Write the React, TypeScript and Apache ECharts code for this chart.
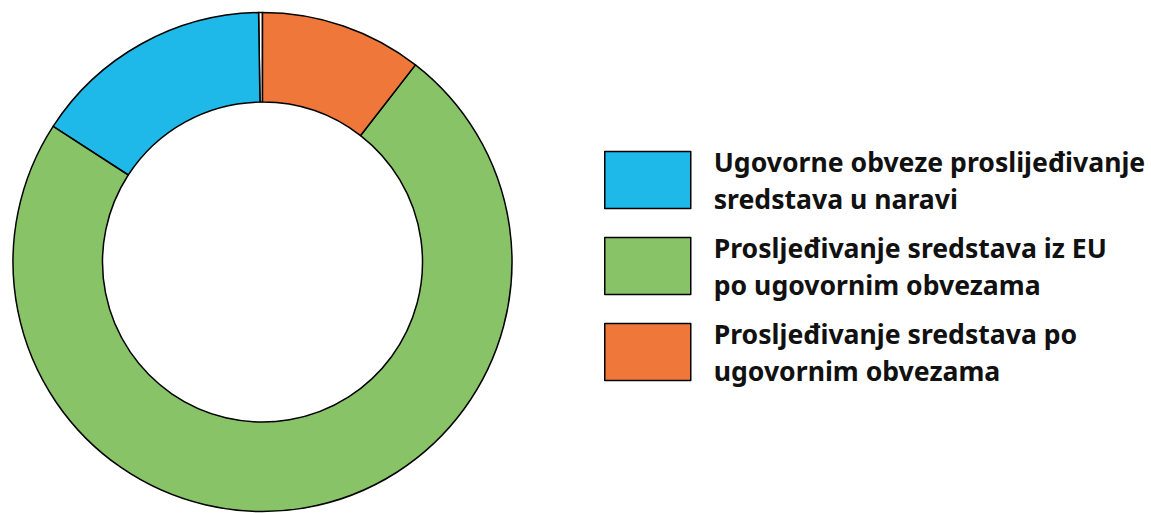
import React, { useEffect, useRef } from "react";
import * as echarts from "echarts";

const categories = [
  "",
  "Ugovorne obveze proslijeđivanje sredstava u naravi",
  "Prosljeđivanje sredstava iz EU po ugovornim obvezama",
  "Prosljeđivanje sredstava po ugovornim obvezama",
];
const legendLines = [
  "",
  "Ugovorne obveze proslijeđivanje\nsredstava u naravi",
  "Prosljeđivanje sredstava iz EU\npo ugovornim obvezama",
  "Prosljeđivanje sredstava po\nugovornim obvezama",
];
const values = [0.25, 15.6, 73.65, 10.5];
const colors = ["#ffffff", "#1eb9e8", "#88c367", "#f0773a"];

export default function App() {
  const ref = useRef<HTMLDivElement>(null);
  useEffect(() => {
    document.body.style.margin = "0";
    const chart = echarts.init(ref.current!, null, { renderer: "svg" });
    chart.setOption({
      animation: false,
      legend: {
        orient: "vertical",
        left: 599,
        top: 138,
        itemWidth: 86,
        itemHeight: 57,
        itemGap: 12,
        icon: "rect",
        data: categories.slice(1),
        selectedMode: false,
        itemStyle: { borderColor: "#000", borderWidth: 1.5 },
        formatter: (name: string) => legendLines[categories.indexOf(name)],
        textStyle: {
          fontFamily: "Noto Sans",
          fontWeight: "bold",
          fontSize: 26.6,
          lineHeight: 37,
          color: "#111",
          padding: [0, 0, 0, 18],
        },
      },
      series: [
        {
          type: "pie",
          center: [262.5, 262],
          radius: [160, 249.5],
          startAngle: 90,
          clockwise: false,
          label: { show: false },
          labelLine: { show: false },
          emphasis: { disabled: true },
          itemStyle: { borderColor: "#000", borderWidth: 1.5 },
          data: categories.map((name, i) => ({
            name,
            value: values[i],
            itemStyle: { color: colors[i] },
          })),
        },
      ],
    });
    return () => chart.dispose();
  }, []);
  return <div ref={ref} style={{ width: 1151, height: 513 }} />;
}
